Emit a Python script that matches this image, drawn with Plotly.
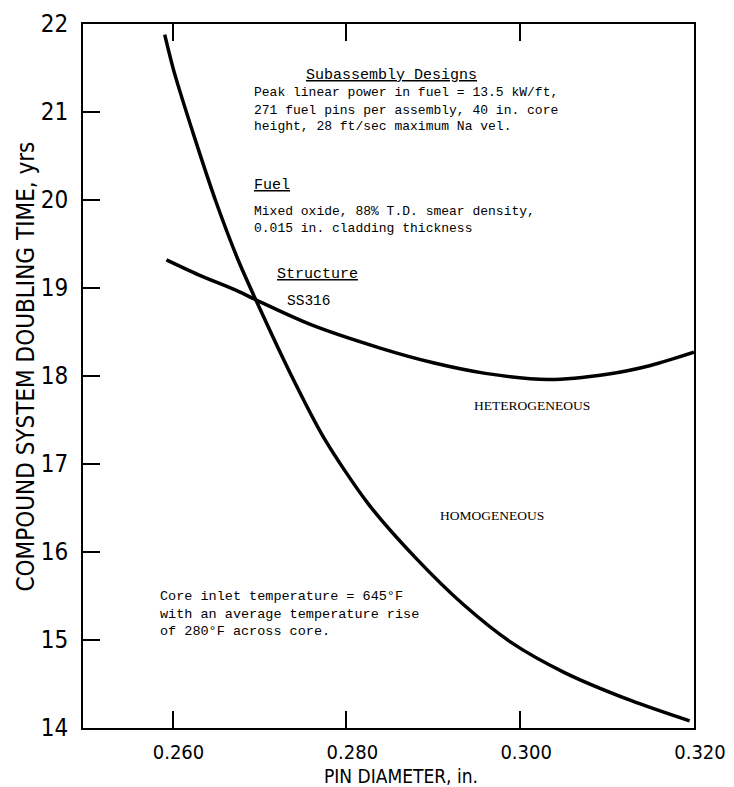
import plotly.graph_objects as go

# Homogeneous curve (pin diameter in., doubling time yrs)
homo_x = [0.2591, 0.2602, 0.2625, 0.2650, 0.2675, 0.2697, 0.2735, 0.2774,
          0.2825, 0.2880, 0.2935, 0.2990, 0.3051, 0.3128, 0.3195]
homo_y = [21.88, 21.45, 20.72, 19.98, 19.33, 18.84, 18.04, 17.30,
          16.55, 15.93, 15.40, 14.97, 14.63, 14.31, 14.08]

# Heterogeneous curve
hetero_x = [0.2593, 0.2630, 0.2674, 0.2697, 0.2760, 0.2838, 0.2900,
            0.2960, 0.3032, 0.3100, 0.3150, 0.3200]
hetero_y = [19.32, 19.15, 18.97, 18.86, 18.58, 18.32, 18.15,
            18.03, 17.96, 18.02, 18.12, 18.27]

x_ticks = [0.260, 0.280, 0.300, 0.320]
x_tick_labels = ["0.260", "0.280", "0.300", "0.320"]
y_ticks = [14, 15, 16, 17, 18, 19, 20, 21, 22]
y_tick_labels = [str(v) for v in y_ticks]

design_lines = ["Peak linear power in fuel = 13.5 kW/ft,",
                "271 fuel pins per assembly, 40 in. core",
                "height, 28 ft/sec maximum Na vel."]
fuel_lines = ["Mixed oxide, 88% T.D. smear density,",
              "0.015 in. cladding thickness"]
core_lines = ["Core inlet temperature = 645°F",
              "with an average temperature rise",
              "of 280°F across core."]

fig = go.Figure()
fig.add_trace(go.Scatter(x=homo_x, y=homo_y, mode="lines", name="HOMOGENEOUS",
                         line=dict(color="black", width=3.5, shape="spline", smoothing=0.8)))
fig.add_trace(go.Scatter(x=hetero_x, y=hetero_y, mode="lines", name="HETEROGENEOUS",
                         line=dict(color="black", width=3.5, shape="spline", smoothing=0.8)))

mono = "Liberation Mono, Courier New, monospace"
serif = "Liberation Serif, Times New Roman, serif"
sans = "DejaVu Sans Condensed, Liberation Sans Narrow, Arial Narrow, Liberation Sans, sans-serif"


def note(x, y, text, family, size):
    fig.add_annotation(x=x, y=y, xref="x", yref="y", text=text,
                       showarrow=False, xanchor="left", yanchor="middle", align="left",
                       font=dict(color="black", family=family, size=size))


note(0.2751, 21.41, "<u>Subassembly Designs</u>", mono, 15)
for line, yv in zip(design_lines, [21.216, 21.02, 20.84]):
    note(0.2692, yv, line, mono, 13)
note(0.2692, 20.16, "<u>Fuel</u>", mono, 15)
for line, yv in zip(fuel_lines, [19.875, 19.68]):
    note(0.2692, yv, line, mono, 13)
note(0.2718, 19.15, "<u>Structure</u>", mono, 15)
note(0.2729, 18.85, "SS316", mono, 14.5)
note(0.2945, 17.67, "HETEROGENEOUS", serif, 13.5)
note(0.2905, 16.42, "HOMOGENEOUS", serif, 13.5)
note(0.2583, 15.30, "<br>".join(core_lines), mono, 13.5)

# axis titles
fig.add_annotation(x=0.2863, y=-0.0682, xref="x", yref="paper", text="PIN DIAMETER, in.",
                   showarrow=False, xanchor="center", yanchor="middle",
                   font=dict(family=sans, size=19, color="black"))
fig.add_annotation(x=-0.093, y=18.11, xref="paper", yref="y", text="COMPOUND SYSTEM DOUBLING TIME, yrs",
                   showarrow=False, xanchor="center", yanchor="middle", textangle=-90,
                   font=dict(family=sans, size=24, color="black"))

fig.update_layout(
    width=734, height=787,
    margin=dict(l=75, r=48, t=16, b=67),
    paper_bgcolor="white", plot_bgcolor="white",
    showlegend=False,
    font=dict(family=sans, color="black"),
)
fig.update_xaxes(
    range=[0.2497, 0.3200], tickvals=x_ticks, ticktext=x_tick_labels,
    showgrid=False, zeroline=False, showline=True, linecolor="black", linewidth=2,
    mirror="ticks", ticks="inside", ticklen=17, tickwidth=2, tickcolor="black",
    tickfont=dict(family=sans, size=20), ticklabelshift=6, ticklabelstandoff=5,
    automargin=False,
)
fig.update_yaxes(
    range=[14, 22], tickvals=y_ticks, ticktext=y_tick_labels,
    showgrid=False, zeroline=False, showline=True, linecolor="black", linewidth=2,
    mirror=True, ticks="inside", ticklen=17, tickwidth=2, tickcolor="black",
    tickfont=dict(family=sans, size=24), ticklabelstandoff=8,
    automargin=False,
)

fig.write_html("out.html")
